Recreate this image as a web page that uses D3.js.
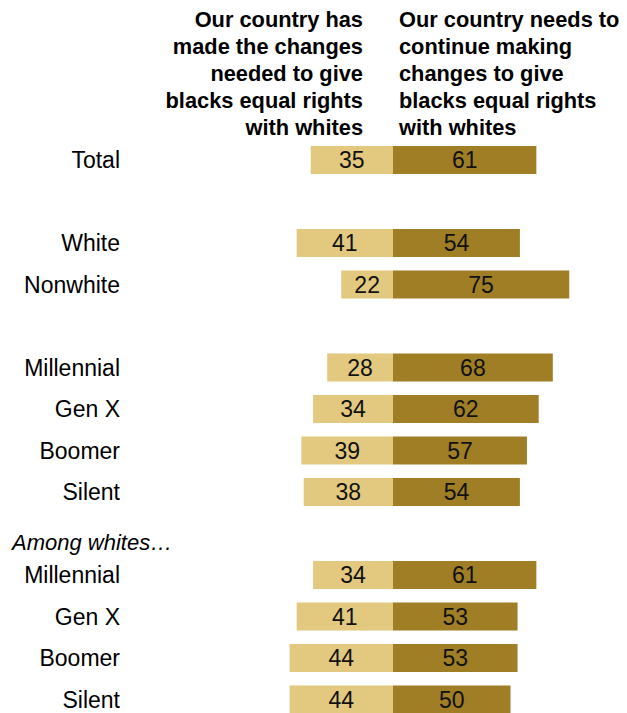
<!DOCTYPE html>
<html>
<head>
<meta charset="utf-8">
<script src="https://cdn.jsdelivr.net/npm/d3@7"></script>
<style>
  html, body { margin: 0; padding: 0; background: #fff; }
  svg { display: block; }
</style>
</head>
<body>
<svg id="chart" width="627" height="713"></svg>
<script>
const categories = ["Total", "White", "Nonwhite", "Millennial", "Gen X", "Boomer", "Silent", "Millennial", "Gen X", "Boomer", "Silent"];
const groups = ["Total", "Race", "Race", "Generation", "Generation", "Generation", "Generation", "Whites", "Whites", "Whites", "Whites"];
const madeChanges = [35, 41, 22, 28, 34, 39, 38, 34, 41, 44, 44];
const needChanges = [61, 54, 75, 68, 62, 57, 54, 61, 53, 53, 50];
const headerLeft = ["Our country has", "made the changes", "needed to give", "blacks equal rights", "with whites"];
const headerRight = ["Our country needs to", "continue making", "changes to give", "blacks equal rights", "with whites"];
const groupNote = "Among whites\u2026";

const lightColor = "#e2c97f";
const darkColor = "#9f7e25";
const font = "'Liberation Sans', Arial, sans-serif";

// slot positions: a blank slot between groups
const slotIndex = [];
let s = 0;
groups.forEach((g, i) => {
  if (i > 0 && g !== groups[i - 1]) s += 1;
  slotIndex.push(s);
  s += 1;
});
const nSlots = s;

const svg = d3.select("#chart");
const center = 393;
const x = d3.scaleLinear().domain([0, 100]).range([0, 235]);
const y = d3.scalePoint().domain(d3.range(nSlots)).range([160, 160 + (nSlots - 1) * 41.5]);
const barH = 28;

// headers
const hl = svg.append("text").attr("font-family", font).attr("font-weight", "bold")
  .attr("font-size", 21.8).attr("fill", "#000").attr("text-anchor", "end");
headerLeft.forEach((t, i) => hl.append("tspan").attr("x", 363).attr("y", 27 + i * 27).text(t));
const hr = svg.append("text").attr("font-family", font).attr("font-weight", "bold")
  .attr("font-size", 21.8).attr("fill", "#000").attr("text-anchor", "start");
headerRight.forEach((t, i) => hr.append("tspan").attr("x", 399).attr("y", 27 + i * 27).text(t));

const rows = categories.map((c, i) => ({ cat: c, a: madeChanges[i], b: needChanges[i], slot: slotIndex[i], group: groups[i] }));

// group note
const whitesFirst = rows.find(r => r.group === "Whites");
svg.append("text").attr("x", 12).attr("y", y(whitesFirst.slot - 1) + 16)
  .attr("font-family", font).attr("font-style", "italic").attr("font-size", 22)
  .attr("fill", "#000").text(groupNote);

const g = svg.selectAll("g.row").data(rows).join("g").attr("class", "row");

g.append("rect")
  .attr("x", d => center - x(d.a)).attr("y", d => y(d.slot) - barH / 2)
  .attr("width", d => x(d.a)).attr("height", barH).attr("fill", lightColor);
g.append("rect")
  .attr("x", center).attr("y", d => y(d.slot) - barH / 2)
  .attr("width", d => x(d.b)).attr("height", barH).attr("fill", darkColor);

g.append("text")
  .attr("x", 120).attr("y", d => y(d.slot)).attr("dy", "0.36em")
  .attr("text-anchor", "end").attr("font-family", font).attr("font-size", 23)
  .attr("fill", "#000").text(d => d.cat);

g.append("text")
  .attr("x", d => center - x(d.a) / 2).attr("y", d => y(d.slot)).attr("dy", "0.36em")
  .attr("text-anchor", "middle").attr("font-family", font).attr("font-size", 23)
  .attr("fill", "#111").text(d => d.a);
g.append("text")
  .attr("x", d => center + x(d.b) / 2).attr("y", d => y(d.slot)).attr("dy", "0.36em")
  .attr("text-anchor", "middle").attr("font-family", font).attr("font-size", 23)
  .attr("fill", "#111").text(d => d.b);
</script>
</body>
</html>
